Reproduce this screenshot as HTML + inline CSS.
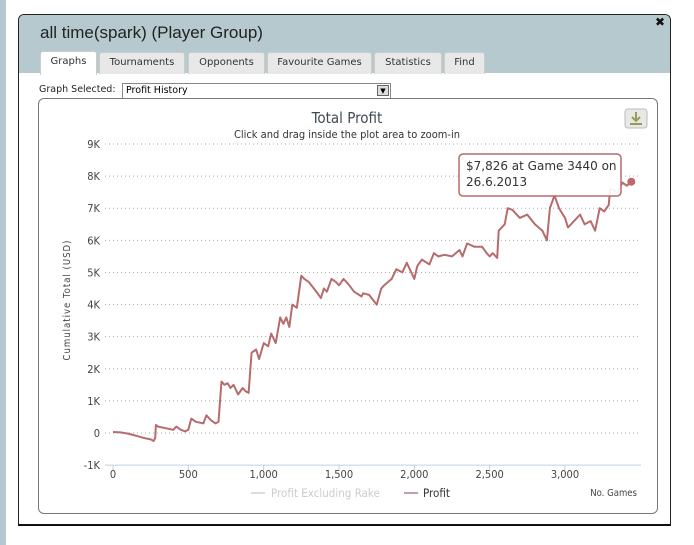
<!DOCTYPE html>
<html><head><meta charset="utf-8"><style>
body{margin:0;width:694px;height:545px;background:#fff;position:relative;overflow:hidden;font-family:"DejaVu Sans","Liberation Sans",sans-serif;}
#strip{position:absolute;left:0;top:0;width:6px;height:545px;background:#b5c8cf;}
#dlg{position:absolute;left:18px;top:14px;width:651px;height:509px;border:1px solid #222;border-bottom:2px solid #111;border-radius:6px 6px 0 0;background:#fff;overflow:hidden;}
#hdr{position:absolute;left:0;top:0;width:100%;height:58px;background:#b5c9cf;}
#title{position:absolute;left:21px;top:8px;font-family:"Liberation Sans",sans-serif;font-size:17px;color:#222;}
#close{position:absolute;right:5px;top:0px;font-size:12px;font-weight:bold;color:#111;}
.tab{position:absolute;top:37px;height:21px;background:#e8e8e8;border:1px solid #ccc;border-bottom:none;border-radius:3px 3px 0 0;font-size:10px;color:#333;line-height:20px;text-align:center;}
.tab.sel{background:#fff;top:36px;height:23px;}
#gs{position:absolute;left:20px;top:69px;font-size:9.5px;color:#222;}
#sel{position:absolute;left:103px;top:68px;width:264px;height:14px;border:1px solid #888;font-size:9.5px;line-height:14px;padding-left:3px;background:#fff;}
#selbtn{position:absolute;right:1px;top:1px;width:12px;height:11px;background:#ddd;border:1px solid #666;box-sizing:border-box;font-size:7px;text-align:center;line-height:10px;}
#box{position:absolute;left:19px;top:83px;width:618px;height:414px;border:1px solid #777;border-radius:6px;}
</style></head><body>
<div id="strip"></div>
<div id="dlg">
 <div id="hdr"></div>
 <div id="title">all time(spark) (Player Group)</div>
 <div id="close">✖</div>
 <div class="tab sel" style="left:21px;width:55px">Graphs</div>
 <div class="tab" style="left:80px;width:84px">Tournaments</div>
 <div class="tab" style="left:169px;width:75px">Opponents</div>
 <div class="tab" style="left:248px;width:103px">Favourite Games</div>
 <div class="tab" style="left:355px;width:66px">Statistics</div>
 <div class="tab" style="left:425px;width:39px">Find</div>
 <div id="gs">Graph Selected:</div>
 <div id="sel">Profit History<div id="selbtn">▼</div></div>
 <div id="box"></div>
</div>
<svg id="chart" width="694" height="545" style="position:absolute;left:0;top:0"></svg>
<script>
const yTicks=[-1000,0,1000,2000,3000,4000,5000,6000,7000,8000,9000];
const yTickLabels=["-1K","0","1K","2K","3K","4K","5K","6K","7K","8K","9K"];
const xTicks=[0,500,1000,1500,2000,2500,3000];
const xTickLabels=["0","500","1,000","1,500","2,000","2,500","3,000"];
const games=[0,50,100,150,200,250,270,280,285,300,350,400,420,450,480,500,520,550,600,620,650,680,700,720,740,760,780,800,830,860,880,900,920,950,970,1000,1030,1050,1080,1110,1130,1150,1170,1190,1220,1250,1270,1300,1350,1380,1400,1420,1450,1480,1500,1530,1560,1600,1650,1660,1700,1750,1780,1800,1850,1880,1920,1950,1980,2000,2020,2050,2100,2130,2160,2200,2250,2300,2320,2350,2400,2450,2480,2500,2520,2550,2560,2600,2620,2650,2700,2750,2800,2850,2880,2900,2930,2960,3000,3020,3060,3100,3130,3170,3200,3230,3260,3290,3300,3350,3380,3410,3440];
const profit=[30,20,-20,-80,-150,-200,-250,-150,250,200,150,100,200,100,50,100,450,350,300,550,400,300,350,1600,1500,1550,1400,1500,1200,1400,1300,1250,2500,2600,2300,2800,2700,3100,2800,3600,3400,3600,3300,4000,3900,4900,4800,4700,4400,4200,4500,4400,4800,4700,4600,4800,4650,4400,4250,4350,4300,4000,4500,4600,4800,5100,5000,5300,5000,4800,5200,5400,5250,5600,5500,5550,5500,5700,5500,5900,5800,5800,5600,5500,5600,5450,6300,6500,7000,6950,6700,6800,6500,6300,6000,7000,7400,7000,6700,6400,6600,6800,6500,6600,6300,7000,6900,7100,7600,7500,7800,7700,7826];
const tooltipText=["$7,826 at Game 3440 on","26.6.2013"];
const svg=document.getElementById('chart');
const NS='http://www.w3.org/2000/svg';
const X=g=>113+g*(565-113)/3000;
const Y=v=>433-v*(289/9000);
function mk(t,a,txt){const e=document.createElementNS(NS,t);for(const k in a)e.setAttribute(k,a[k]);if(txt!==undefined)e.textContent=txt;svg.appendChild(e);return e;}
let e;
e=mk('text',{x:347,y:123,'text-anchor':'middle','font-size':'15','fill':'#3e4a52','font-family':'DejaVu Sans Condensed,DejaVu Sans,sans-serif'},'Total Profit');


e=mk('text',{x:347,y:138,'text-anchor':'middle','font-size':'11','fill':'#333','font-family':'DejaVu Sans Condensed,DejaVu Sans,sans-serif'},'Click and drag inside the plot area to zoom-in');


e=mk('rect',{x:625,y:109,width:22,height:19,rx:3,fill:'#e8e8e4',stroke:'#bbb'});


mk('path',{d:'M636 112 v8 M632 117 l4 4 l4 -4 M630 124 h12',stroke:'#9a9a60','stroke-width':'2',fill:'none'});
yTicks.forEach((v,i)=>{
 if(v>-1000){e=mk('line',{x1:105,x2:640,y1:Y(v),y2:Y(v),stroke:'#aaa','stroke-dasharray':'1,3'});
 
 }
 e=mk('text',{x:100,y:Y(v)+4,'text-anchor':'end','font-size':'11','fill':'#444','font-family':'DejaVu Sans Condensed,DejaVu Sans,sans-serif'},yTickLabels[i]);
 
 
});
e=mk('line',{x1:105,x2:641,y1:Y(-1000),y2:Y(-1000),stroke:'#c0d0e0','stroke-width':'1'});


xTicks.forEach((g,i)=>{
 mk('line',{x1:X(g),x2:X(g),y1:Y(-1000),y2:Y(-1000)+5,stroke:'#c0d0e0'});
 e=mk('text',{x:X(g),y:478,'text-anchor':'middle','font-size':'11','fill':'#444','font-family':'DejaVu Sans Condensed,DejaVu Sans,sans-serif'},xTickLabels[i]);
 
 
});
e=mk('text',{x:70,y:300,'text-anchor':'middle','font-size':'9.5','fill':'#444','letter-spacing':'1','transform':'rotate(-90 70 300)','font-family':'DejaVu Sans Condensed,DejaVu Sans,sans-serif'},'Cumulative Total (USD)');


e=mk('text',{x:637,y:496,'text-anchor':'end','font-size':'9.5','fill':'#444','font-family':'DejaVu Sans Condensed,DejaVu Sans,sans-serif'},'No. Games');


let d=games.map((g,i)=>(i?'L':'M')+X(g).toFixed(1)+' '+Y(profit[i]).toFixed(1)).join(' ');
e=mk('path',{d:d,fill:'none',stroke:'#b86b6d','stroke-width':'2','stroke-linejoin':'round'});


const li=games.length-1;
e=mk('circle',{cx:X(games[li]),cy:Y(profit[li]),r:4,fill:'#c0686a'});


e=mk('rect',{x:459,y:154,width:162,height:42,rx:4,fill:'#fff','fill-opacity':'0.92',stroke:'#b86b6d','stroke-width':'1.5'});


tooltipText.forEach((t,i)=>{mk('text',{x:466,y:170+i*16,'font-size':'12','fill':'#333','font-family':'DejaVu Sans,sans-serif'},t);});
e=mk('line',{x1:251,x2:265,y1:493,y2:493,stroke:'#ddd','stroke-width':'2'});


e=mk('text',{x:271,y:497,'font-size':'11.5','fill':'#ccc','font-family':'DejaVu Sans Condensed,DejaVu Sans,sans-serif'},'Profit Excluding Rake');


e=mk('line',{x1:404,x2:418,y1:493,y2:493,stroke:'#c0a0a0','stroke-width':'2'});


e=mk('text',{x:423,y:497,'font-size':'11.5','fill':'#333','font-family':'DejaVu Sans Condensed,DejaVu Sans,sans-serif'},'Profit');


</script>
</body></html>
